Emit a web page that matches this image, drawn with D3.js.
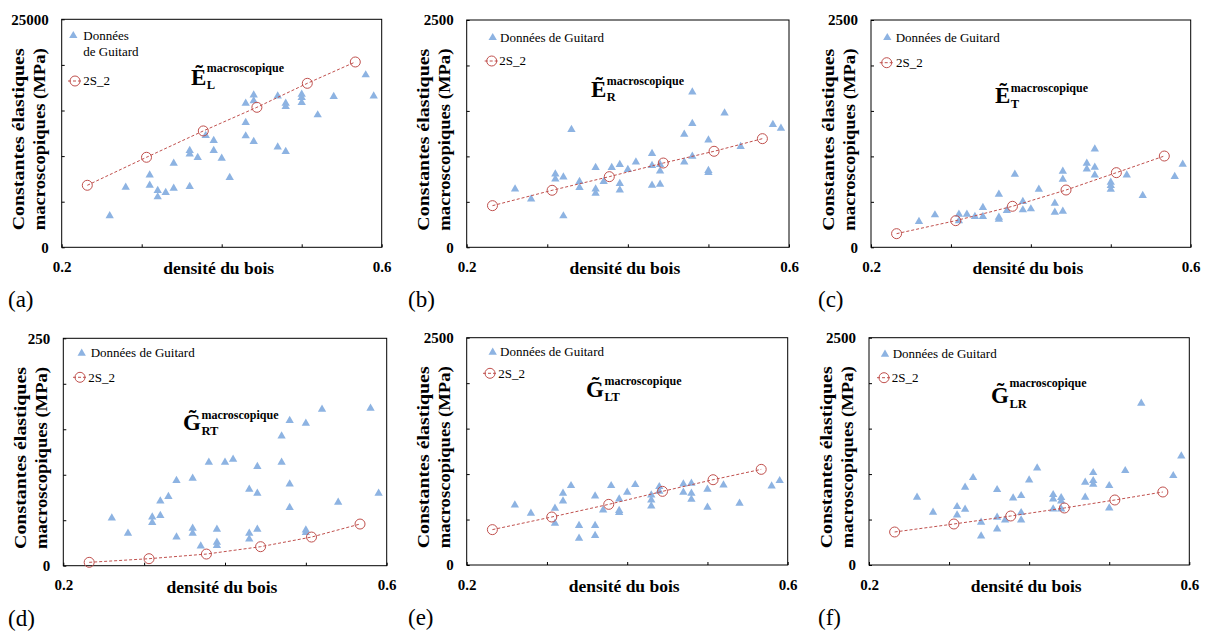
<!DOCTYPE html>
<html><head><meta charset="utf-8">
<script src="https://cdn.jsdelivr.net/npm/d3@7"></script>
<style>
body{margin:0;background:#fff}
svg{display:block}
text{font-family:"Liberation Serif","Times New Roman",serif;fill:#000}
</style>
</head><body>
<svg id="chart" width="1207" height="635"></svg>
<script>
// ---- data ----
const modelDensity = [0.232, 0.306, 0.377, 0.444, 0.507, 0.567];

const densA = [0.26,0.28,0.31,0.31,0.32,0.32,0.33,0.34,0.34,0.36,0.36,0.36,0.37,0.38,0.39,0.39,0.40,0.41,0.43,0.43,0.43,0.44,0.44,0.44,0.47,0.47,0.48,0.48,0.48,0.50,0.50,0.50,0.52,0.54,0.58,0.59];
const valA  = [3440,6580,7930,6800,6210,5520,5990,9210,6470,10600,10230,6650,9830,12240,11700,10600,9760,7640,15790,13670,12210,16700,16050,11590,16590,11000,15790,15420,10490,16780,16410,15860,14510,16520,18900,16590];
const modelA = [6800, 9870, 12760, 15350, 17980, 20320];

const densB = [0.26,0.28,0.31,0.31,0.32,0.32,0.33,0.34,0.34,0.36,0.36,0.36,0.37,0.38,0.39,0.39,0.39,0.40,0.41,0.43,0.43,0.43,0.44,0.44,0.44,0.47,0.47,0.48,0.48,0.48,0.50,0.50,0.50,0.52,0.54,0.58,0.59];
const valB  = [641,531,806,751,773,345,1294,722,656,876,641,594,722,876,909,700,630,854,938,1030,898,682,909,839,693,1243,938,1708,1360,1001,1180,843,821,1477,1107,1349,1309];
const modelB = [458, 627, 777, 927, 1056, 1195];

const densC = [0.26,0.28,0.31,0.31,0.32,0.33,0.34,0.34,0.36,0.36,0.36,0.37,0.38,0.39,0.39,0.40,0.41,0.43,0.43,0.44,0.44,0.44,0.47,0.47,0.48,0.48,0.48,0.50,0.50,0.50,0.52,0.54,0.58,0.59];
const valC  = [282,356,363,290,363,337,436,337,583,330,308,403,803,502,411,422,638,484,385,836,748,396,924,861,1081,880,795,715,678,638,795,568,777,913];
const modelC = [150, 293, 451, 630, 821, 1004];

const densD = [0.26,0.28,0.31,0.31,0.32,0.32,0.33,0.34,0.34,0.36,0.36,0.36,0.37,0.38,0.39,0.39,0.39,0.40,0.41,0.43,0.43,0.43,0.44,0.44,0.44,0.47,0.47,0.48,0.48,0.48,0.50,0.50,0.50,0.52,0.54,0.58,0.59];
const valD  = [52.4,35.6,53.5,47.3,55.0,71.1,75.9,93.5,31.5,96.0,41.1,35.6,21.6,113.6,40.0,25.7,22.0,113.6,116.9,83.9,35.6,29.3,108.9,79.5,40.0,142.6,113.6,159.5,89.8,63.8,156.5,39.2,36.3,171.9,69.6,173.0,79.5];
const modelD = [3.7, 7.7, 12.8, 20.9, 31.5, 45.8];

const densE = [0.26,0.28,0.31,0.31,0.32,0.32,0.33,0.34,0.34,0.36,0.36,0.36,0.37,0.38,0.39,0.39,0.39,0.40,0.41,0.43,0.43,0.43,0.44,0.44,0.47,0.47,0.48,0.48,0.48,0.50,0.50,0.52,0.54,0.58,0.59];
const valE  = [660,568,623,458,788,704,872,433,293,759,433,323,605,872,726,598,576,799,883,770,715,649,861,810,891,799,898,788,722,832,634,880,678,869,927];
const modelE = [389, 528, 667, 810, 938, 1052];

const densF = [0.26,0.28,0.31,0.31,0.32,0.32,0.33,0.34,0.34,0.36,0.36,0.36,0.37,0.38,0.39,0.39,0.39,0.40,0.41,0.43,0.43,0.43,0.44,0.44,0.44,0.47,0.47,0.48,0.48,0.48,0.50,0.50,0.52,0.54,0.58,0.59];
const valF  = [744,579,641,550,854,612,960,469,319,828,524,396,495,737,762,575,495,935,1067,773,726,616,740,704,616,909,744,1015,927,887,872,627,1037,1778,982,1199];
const modelF = [363, 451, 539, 627, 715, 803];

const yMaxes = [25000, 2500, 2500, 250, 2500, 2500];
const xDomain = [0.2, 0.6];
const xTickValues = [0.2, 0.3, 0.4, 0.5, 0.6];
const xTickLabels = ["0.2", "0.6"];
const panelTags = ["(a)", "(b)", "(c)", "(d)", "(e)", "(f)"];
const symbolLetters = ["\u1EBC", "\u1EBC", "\u1EBC", "G\u0303", "G\u0303", "G\u0303"];
const symbolSubs = ["L", "R", "T", "RT", "LT", "LR"];
const symbolSup = "macroscopique";
const seriesNames = ["Données de Guitard", "2S_2"];
const yTitle = ["Constantes élastiques", "macroscopiques (MPa)"];
const xTitle = "densité du bois";

// ---- layout ----
const panels = [
  {dens:densA, vals:valA, model:modelA, box:[61.7,381.7,19.3,247.3], sym:[191,85,72,88.5],
   tri:[11.6,16.4], triText:[21.6,20.5], twoLine:true, circ:[13.3,61.7], circText:[21.6,65.7], tagX:8},
  {dens:densB, vals:valB, model:modelB, box:[466.7,789,20,247.3], sym:[591,96.7,85,100.5],
   tri:[26,17.7], triText:[33.3,21.5], twoLine:false, circ:[25,41], circText:[32.6,45.3], tagX:408},
  {dens:densC, vals:valC, model:modelC, box:[871,1190.7,20,247.3], sym:[995,103.3,92,108],
   tri:[16.3,17.7], triText:[24.7,21.5], twoLine:false, circ:[15.7,42.7], circText:[25,47], tagX:818},
  {dens:densD, vals:valD, model:modelD, box:[63.3,386.7,338.3,565.7], sym:[183,430,419,434.5],
   tri:[18.4,15], triText:[27.4,18.8], twoLine:false, circ:[16.7,39], circText:[25,43.4], tagX:8},
  {dens:densE, vals:valE, model:modelE, box:[466.7,787.7,337.7,565], sym:[586,396.5,385,401],
   tri:[26,14.6], triText:[33.3,18.4], twoLine:false, circ:[23.3,35.6], circText:[31.6,39.8], tagX:408},
  {dens:densF, vals:valF, model:modelF, box:[869,1189.3,337.7,565], sym:[991,403,387,408],
   tri:[16,16.6], triText:[23.7,20.4], twoLine:false, circ:[15,40], circText:[22.7,44.2], tagX:818}
];

const triColor = "#8db3e2";
const redColor = "#c0504d";
const svg = d3.select("#chart");
const triSym = d3.symbol().type(d3.symbolTriangle).size(30);

panels.forEach((p, i) => {
  const [L, R, T, B] = p.box;
  const x = d3.scaleLinear().domain(xDomain).range([L, R]);
  const y = d3.scaleLinear().domain([0, yMaxes[i]]).range([B, T]);
  const g = svg.append("g");

  // axes (inward ticks, end labels only)
  const yTicks = d3.range(0, 6).map(k => yMaxes[i] * k / 5);
  const yAx = g.append("g").attr("transform", `translate(${L},0)`)
    .call(d3.axisLeft(y).tickValues(yTicks).tickSizeInner(-3).tickSizeOuter(0).tickPadding(13)
      .tickFormat(v => (v === 0 || v === yMaxes[i]) ? d3.format("d")(v) : ""));
  const xAx = g.append("g").attr("transform", `translate(0,${B})`)
    .call(d3.axisBottom(x).tickValues(xTickValues).tickSizeInner(-3).tickSizeOuter(0).tickPadding(14)
      .tickFormat(v => { const s = d3.format(".1f")(v); return xTickLabels.includes(s) ? s : ""; }));
  [yAx, xAx].forEach(a => {
    a.select(".domain").remove();
    a.selectAll(".tick line").attr("stroke", "#000");
    a.selectAll("text").attr("font-size", 15).attr("font-weight", "bold")
      .attr("font-family", '"Liberation Serif", serif').attr("fill", "#000");
  });

  // frame
  g.append("rect").attr("x", L).attr("y", T).attr("width", R - L).attr("height", B - T)
    .attr("fill", "none").attr("stroke", "#000").attr("stroke-width", 1);

  // Guitard triangles
  g.append("g").selectAll("path").data(p.dens.map((d, k) => [d, p.vals[k]])).join("path")
    .attr("d", triSym).attr("fill", triColor)
    .attr("transform", d => `translate(${x(d[0])},${y(d[1])})`);

  // 2S_2 model
  const mdata = modelDensity.map((d, k) => [d, p.model[k]]);
  g.append("path").datum(mdata)
    .attr("d", d3.line().x(d => x(d[0])).y(d => y(d[1])))
    .attr("fill", "none").attr("stroke", redColor).attr("stroke-width", 1).attr("stroke-dasharray", "3,2");
  g.append("g").selectAll("circle").data(mdata).join("circle")
    .attr("cx", d => x(d[0])).attr("cy", d => y(d[1])).attr("r", 5)
    .attr("fill", "none").attr("stroke", redColor).attr("stroke-width", 1);

  // legend
  g.append("path").attr("d", triSym).attr("fill", triColor)
    .attr("transform", `translate(${L + p.tri[0]},${T + p.tri[1]})`);
  if (p.twoLine) {
    const t = g.append("text").attr("font-size", 13).attr("x", L + p.triText[0]).attr("y", T + p.triText[1]);
    t.append("tspan").text("Données");
    t.append("tspan").attr("x", L + p.triText[0]).attr("dy", 16.5).text("de Guitard");
  } else {
    g.append("text").attr("font-size", 13).attr("x", L + p.triText[0]).attr("y", T + p.triText[1]).text(seriesNames[0]);
  }
  const cx = L + p.circ[0], cy = T + p.circ[1];
  g.append("line").attr("x1", cx - 7).attr("x2", cx + 7).attr("y1", cy).attr("y2", cy)
    .attr("stroke", redColor).attr("stroke-dasharray", "3,2");
  g.append("circle").attr("cx", cx).attr("cy", cy).attr("r", 5).attr("fill", "none").attr("stroke", redColor);
  g.append("text").attr("font-size", 13).attr("x", L + p.circText[0]).attr("y", T + p.circText[1]).text(seriesNames[1]);

  // symbol label
  const main = g.append("text").attr("font-size", 23).attr("font-weight", "bold")
    .attr("x", p.sym[0]).attr("y", p.sym[1]).text(symbolLetters[i]);
  const mw = main.node().getComputedTextLength();
  g.append("text").attr("font-size", 12).attr("font-weight", "bold")
    .attr("x", p.sym[0] + mw + 0.5).attr("y", p.sym[2]).text(symbolSup);
  g.append("text").attr("font-size", 12.5).attr("font-weight", "bold")
    .attr("x", p.sym[0] + mw + 0.5).attr("y", p.sym[3]).text(symbolSubs[i]);

  // axis titles
  const cyT = (T + B) / 2 + 6;
  [[-43, yTitle[0]], [-22, yTitle[1]]].forEach(([dx, s]) => {
    g.append("text").attr("font-size", 17).attr("font-weight", "bold")
      .attr("text-anchor", "middle").attr("dominant-baseline", "central")
      .attr("transform", `translate(${L + dx},${cyT}) rotate(-90)`)
      .attr("textLength", 182).attr("lengthAdjust", "spacingAndGlyphs")
      .text(s);
  });
  g.append("text").attr("font-size", 17.5).attr("font-weight", "bold").attr("text-anchor", "middle")
    .attr("x", (L + R) / 2 - 3).attr("y", B + 27).text(xTitle);

  // panel tag
  g.append("text").attr("font-size", 23).attr("x", p.tagX).attr("y", B + 60).text(panelTags[i]);
});
</script>
</body></html>
